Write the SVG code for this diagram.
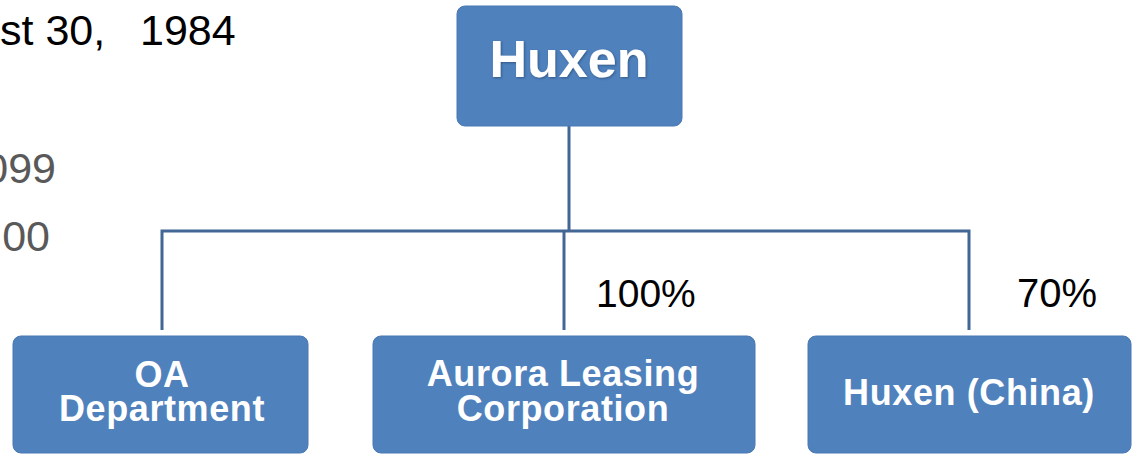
<svg xmlns="http://www.w3.org/2000/svg" width="1136" height="454" viewBox="0 0 1136 454">
<defs>
<style>
.box{fill:#4F81BD;stroke:#4A79B3;stroke-width:1}
.lbl{font-family:"Liberation Sans",Arial,sans-serif;font-weight:bold;fill:#FFFFFF;text-anchor:middle}
.plain{font-family:"Liberation Sans",Arial,sans-serif}
.conn{stroke:#436795;stroke-width:3;fill:none}
</style>
<filter id="sh" x="-10%" y="-20%" width="120%" height="140%">
<feDropShadow dx="1" dy="1" stdDeviation="1" flood-color="#1F3B5E" flood-opacity="0.6"/>
</filter>
</defs>
<rect width="1136" height="454" fill="#FFFFFF"/>
<g id="side-text" class="plain">
<text x="0" y="45" font-size="43" fill="#000000">st 30, <tspan x="140">1984</tspan></text>
<text x="56" y="183" font-size="43" fill="#595959" text-anchor="end">099</text>
<text x="50" y="251" font-size="43" fill="#595959" text-anchor="end">00</text>
</g>
<g id="connectors">
<line class="conn" x1="569" y1="126" x2="569" y2="231"/>
<polyline class="conn" points="162,330 162,231 969,231 969,330"/>
<line class="conn" x1="564" y1="231" x2="564" y2="330"/>
</g>
<g id="huxen">
<rect class="box" x="457" y="6" width="225" height="120" rx="8"/>
<text class="lbl" x="569" y="77" font-size="52" filter="url(#sh)">Huxen</text>
</g>
<g id="oa-department">
<rect class="box" x="13" y="336" width="295" height="117" rx="8"/>
<text class="lbl" x="162" y="387" font-size="36" letter-spacing="0.6">OA</text>
<text class="lbl" x="162" y="421" font-size="36" letter-spacing="0.6">Department</text>
</g>
<g id="aurora">
<rect class="box" x="373" y="336" width="382" height="117" rx="8"/>
<text class="lbl" x="563" y="386" font-size="36" letter-spacing="0.6">Aurora Leasing</text>
<text class="lbl" x="563" y="421" font-size="36" letter-spacing="0.6">Corporation</text>
</g>
<g id="huxen-china">
<rect class="box" x="808" y="336" width="323" height="117" rx="8"/>
<text class="lbl" x="969" y="405" font-size="36" letter-spacing="0.6">Huxen (China)</text>
</g>
<g id="percent-labels" class="plain">
<text x="596" y="307" font-size="39" fill="#000000">100%</text>
<text x="1017" y="307" font-size="40" fill="#000000">70%</text>
</g>
</svg>
